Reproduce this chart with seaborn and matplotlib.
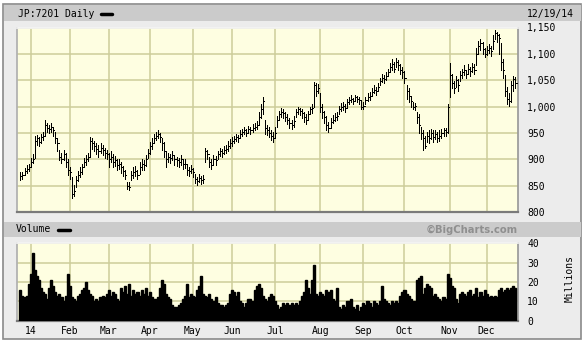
import matplotlib
matplotlib.use("Agg")
import matplotlib.pyplot as plt
import seaborn as sns
import numpy as np
import pandas as pd
from matplotlib.patches import Rectangle

# ---------------- data (trading-day index 0..241, 24 Dec 2013 .. 19 Dec 2014) ----------------
closes = [
    868, 870, 878, 882, 885, 895, 900, 935, 940, 932,
    942, 945, 965, 960, 958, 962, 955, 940, 930, 905,
    900, 910, 895, 880, 875, 835, 840, 860, 870, 875,
    885, 895, 900, 905, 935, 930, 925, 920, 915, 922,
    918, 912, 910, 900, 905, 895, 898, 890, 892, 885,
    878, 870, 850, 848, 870, 875, 878, 870, 885, 892,
    890, 900, 912, 925, 930, 940, 945, 948, 943, 930,
    915, 900, 905, 902, 908, 900, 898, 895, 900, 892,
    892, 880, 878, 882, 875, 862, 858, 865, 860, 862,
    915, 910, 895, 890, 900, 898, 910, 915, 912, 918,
    920, 925, 930, 935, 938, 942, 940, 948, 952, 955,
    950, 958, 955, 960, 962, 965, 980, 995, 1010, 960,
    955, 950, 945, 940, 950, 975, 985, 990, 988, 980,
    975, 968, 965, 972, 990, 995, 992, 988, 980, 975,
    985, 995, 998, 1040, 1030, 1035, 1000, 990, 980, 965,
    960, 970, 975, 980, 982, 995, 1000, 1002, 998, 1008,
    1012, 1015, 1010, 1018, 1015, 1012, 1000, 1002, 1012, 1018,
    1020, 1028, 1032, 1030, 1038, 1048, 1055, 1052, 1058, 1065,
    1075, 1080, 1072, 1085, 1078, 1070, 1065, 1055, 1030, 1020,
    1010, 1000, 1002, 980, 965, 950, 940, 925, 945, 940,
    950, 942, 948, 940, 945, 950, 955, 952, 1000, 1060,
    1045, 1035, 1050, 1040, 1060, 1065, 1070, 1062, 1072, 1068,
    1075, 1070, 1100, 1115, 1120, 1110, 1100, 1108, 1112, 1105,
    1125, 1140, 1135, 1130, 1085, 1070, 1030, 1015, 1010, 1040,
    1052, 1045,
]
highs = [
    875, 876, 884, 890, 892, 902, 910, 945, 946, 942,
    948, 952, 975, 968, 965, 968, 962, 952, 940, 918,
    912, 918, 912, 900, 885, 866, 852, 868, 878, 885,
    892, 902, 908, 912, 942, 940, 935, 930, 928, 930,
    928, 922, 918, 912, 915, 910, 906, 900, 900, 895,
    888, 880, 856, 856, 878, 885, 888, 880, 895, 900,
    898, 908, 920, 932, 940, 948, 952, 955, 950, 940,
    932, 915, 912, 910, 915, 908, 905, 902, 908, 900,
    900, 892, 885, 890, 884, 872, 866, 872, 868, 870,
    922, 918, 905, 900, 908, 906, 916, 922, 920, 925,
    928, 934, 938, 942, 945, 948, 946, 955, 958, 962,
    958, 964, 962, 966, 968, 972, 990, 1005, 1018, 975,
    965, 962, 955, 952, 962, 982, 992, 998, 995, 990,
    985, 978, 975, 982, 996, 1000, 998, 995, 990, 985,
    992, 1000, 1004, 1046, 1045, 1042, 1025, 1005, 992, 982,
    970, 978, 984, 988, 990, 1002, 1006, 1008, 1005, 1015,
    1018, 1022, 1017, 1022, 1021, 1018, 1010, 1008, 1018, 1025,
    1027, 1035, 1040, 1038, 1045, 1055, 1062, 1060, 1065, 1072,
    1082, 1090, 1085, 1092, 1088, 1080, 1075, 1068, 1040, 1035,
    1020, 1008, 1006, 990, 985, 962, 955, 945, 952, 955,
    958, 955, 955, 952, 955, 958, 960, 960, 1005, 1083,
    1062, 1048, 1058, 1052, 1068, 1072, 1078, 1070, 1080, 1076,
    1082, 1080, 1112, 1125, 1128, 1122, 1112, 1115, 1118, 1115,
    1135, 1146, 1142, 1138, 1120, 1090, 1060, 1038, 1025, 1048,
    1058, 1056,
]
lows = [
    860, 862, 870, 874, 878, 886, 893, 902, 928, 925,
    930, 936, 945, 952, 950, 952, 945, 930, 915, 898,
    893, 898, 885, 870, 862, 826, 830, 848, 858, 866,
    872, 886, 890, 896, 905, 920, 915, 910, 905, 912,
    908, 902, 900, 885, 895, 885, 888, 880, 882, 874,
    868, 862, 843, 842, 860, 865, 868, 862, 872, 880,
    880, 888, 902, 910, 920, 930, 936, 940, 932, 918,
    905, 885, 895, 893, 898, 890, 888, 886, 890, 882,
    883, 870, 868, 874, 866, 855, 852, 856, 853, 855,
    895, 900, 885, 882, 890, 890, 900, 906, 905, 910,
    912, 915, 922, 926, 930, 934, 932, 940, 945, 948,
    944, 950, 948, 952, 955, 958, 965, 978, 985, 948,
    946, 942, 936, 932, 940, 962, 975, 980, 978, 972,
    966, 960, 957, 962, 980, 986, 984, 978, 970, 966,
    975, 985, 988, 1000, 1020, 1025, 990, 978, 968, 955,
    952, 960, 968, 972, 974, 985, 992, 994, 990, 998,
    1004, 1008, 1005, 1010, 1008, 1004, 995, 996, 1004, 1010,
    1012, 1020, 1025, 1022, 1030, 1040, 1046, 1045, 1050, 1058,
    1065, 1070, 1066, 1075, 1070, 1062, 1055, 1045, 1015, 1008,
    1000, 995, 994, 968, 950, 938, 918, 922, 932, 930,
    938, 932, 938, 932, 935, 940, 945, 945, 950, 1018,
    1035, 1025, 1038, 1030, 1048, 1055, 1060, 1054, 1062, 1058,
    1066, 1062, 1078, 1100, 1108, 1100, 1094, 1098, 1102, 1096,
    1110, 1128, 1122, 1100, 1070, 1055, 1020, 1005, 1002, 1008,
    1030, 1035,
]
volumes = [  # millions of shares
    16, 13, 12, 13, 19, 24, 35, 26, 23, 21,
    17, 15, 14, 11, 17, 21, 18, 15, 13, 14,
    12, 10, 13, 24, 18, 12, 11, 10, 13, 14,
    16, 17, 20, 16, 14, 13, 10, 11, 10, 12,
    13, 12, 14, 16, 13, 15, 14, 11, 10, 17,
    15, 18, 14, 19, 13, 16, 14, 15, 13, 16,
    14, 17, 13, 15, 12, 11, 11, 12, 17, 21,
    19, 14, 12, 11, 8, 7, 7, 8, 9, 11,
    13, 19, 12, 14, 13, 12, 16, 18, 23, 14,
    13, 12, 14, 11, 10, 12, 9, 8, 8, 7,
    8, 9, 14, 16, 15, 13, 15, 10, 9, 7,
    9, 11, 11, 10, 16, 18, 19, 17, 13, 11,
    10, 12, 14, 13, 10, 8, 6, 7, 9, 8,
    9, 8, 9, 8, 9, 8, 10, 13, 15, 21,
    17, 14, 21, 29, 14, 13, 15, 14, 13, 16,
    15, 16, 11, 10, 17, 7, 6, 8, 7, 10,
    10, 11, 7, 6, 8, 5, 7, 9, 8, 10,
    9, 7, 10, 9, 8, 10, 18, 11, 10, 9,
    8, 10, 9, 10, 9, 13, 15, 16, 14, 13,
    11, 10, 10, 21, 22, 23, 14, 17, 19, 18,
    17, 13, 14, 12, 11, 10, 12, 11, 24, 22,
    18, 17, 11, 9, 14, 15, 14, 13, 15, 16,
    13, 14, 17, 12, 15, 13, 16, 14, 12, 13,
    12, 13, 12, 16, 17, 15, 16, 17, 16, 17,
    18, 17,
]
month_labels = ["14", "Feb", "Mar", "Apr", "May", "Jun", "Jul", "Aug", "Sep", "Oct", "Nov", "Dec"]
month_start_idx = [5, 24, 43, 63, 84, 103, 124, 146, 167, 187, 209, 227]
price_ticks = [800, 850, 900, 950, 1000, 1050, 1100, 1150]
volume_ticks = [0, 10, 20, 30, 40]
symbol_title = "JP:7201 Daily"
last_date = "12/19/14"

# ---------------- style ----------------
sns.set_theme(style="white")
plt.rcParams["font.family"] = ["DejaVu Sans Mono", "DejaVu Sans"]

W, H = 584, 341
BG = "#ececec"
BAND = "#cbcbcb"
PLOT_BG = "#fefee1"
GRID = "#cdcd9a"

fig = plt.figure(figsize=(W / 100, H / 100), dpi=100)
fig.patch.set_facecolor("white")


def fx(x):
    return x / W


def fy(y):
    return 1 - y / H


def px_axes(l, t, r, b):
    return fig.add_axes([l / W, 1 - b / H, (r - l) / W, (b - t) / H])


# outer frame and bands (behind the axes)
fig.patches.append(Rectangle((fx(3), fy(339)), fx(578), 335 / H, transform=fig.transFigure,
                             facecolor=BG, edgecolor="#8a8a8a", linewidth=1.2, zorder=-3))
fig.patches.append(Rectangle((fx(4), fy(21)), fx(577), 16 / H, transform=fig.transFigure,
                             facecolor=BAND, edgecolor="none", zorder=-2))
fig.patches.append(Rectangle((fx(4), fy(237)), fx(577), 15 / H, transform=fig.transFigure,
                             facecolor=BAND, edgecolor="none", zorder=-2))

idx = np.arange(len(closes))
x_lo = (17 - 20.4) / 2.054
x_hi = (518 - 20.4) / 2.054

# ---------------- price panel ----------------
ax = px_axes(17, 27.5, 518, 212)
ax.set_facecolor(PLOT_BG)
ax.vlines(idx, lows, highs, color="black", linewidth=0.7, antialiased=False, zorder=3)
ax.hlines(closes, idx, idx + 0.6, color="black", linewidth=0.7, antialiased=False, zorder=3)
ax.set_xlim(x_lo, x_hi)
ax.set_ylim(800, 1150)
ax.set_yticks(price_ticks)
ax.set_yticklabels([f"{v:,}" for v in price_ticks])
ax.set_xticks(month_start_idx)
ax.set_xticklabels([])
ax.yaxis.tick_right()
ax.tick_params(axis="y", length=0, pad=6.5, labelsize=7, labelcolor="black")
ax.tick_params(axis="x", length=0)
for lab in ax.get_yticklabels():
    lab.set_horizontalalignment("left")
ax.grid(True, color=GRID, linewidth=1.1, zorder=0)
ax.set_axisbelow(True)

# ---------------- volume panel ----------------
vax = px_axes(17, 242.7, 518, 320.7)
vax.set_facecolor(PLOT_BG)
vdf = pd.DataFrame({"i": idx, "vol": volumes})
sns.barplot(data=vdf, x="i", y="vol", native_scale=True, color="black", width=1.0,
            edgecolor="black", linewidth=1.0, saturation=1, ax=vax, zorder=3)
vax.set_xlim(x_lo, x_hi)
vax.set_ylim(0, 40.3)
vax.set_xlabel("")
vax.set_ylabel("")
vax.set_yticks(volume_ticks)
vax.set_yticklabels([str(v) for v in volume_ticks])
vax.set_xticks(month_start_idx)
vax.set_xticklabels(month_labels)
vax.yaxis.tick_right()
vax.tick_params(axis="y", length=0, pad=6.5, labelsize=7, labelcolor="black")
vax.tick_params(axis="x", length=0, pad=4, labelsize=7, labelcolor="black")
for lab in vax.get_yticklabels():
    lab.set_horizontalalignment("left")
vax.grid(True, color=GRID, linewidth=1.1, zorder=0)
vax.set_axisbelow(True)

for a in (ax, vax):
    a.spines["left"].set_color("#b0b0b0")
    a.spines["top"].set_color("#f4f4f4")
    a.spines["right"].set_color("#9a9a9a")
    a.spines["bottom"].set_color("#7a7a7a")
    a.spines["bottom"].set_linewidth(1.6)
    for s in a.spines.values():
        s.set_visible(True)

# ---------------- texts ----------------
fig.text(fx(18), fy(14), symbol_title, fontsize=7, va="center", ha="left", color="black")
fig.add_artist(plt.Line2D([fx(101), fx(112)], [fy(14), fy(14)], color="black", linewidth=2.5,
                          transform=fig.transFigure))
fig.text(fx(574), fy(14), last_date, fontsize=7, va="center", ha="right", color="black")

fig.text(fx(16), fy(229.5), "Volume", fontsize=7, va="center", ha="left", color="black")
fig.add_artist(plt.Line2D([fx(58), fx(70)], [fy(229.5), fy(229.5)], color="black", linewidth=2.5,
                          transform=fig.transFigure))
fig.text(fx(518), fy(229.5), "©BigCharts.com", fontsize=7.2, fontweight="bold", va="center",
         ha="right", color="#8f8f8f", family="DejaVu Sans")
fig.text(fx(570), fy(279), "Millions", fontsize=7, va="center", ha="center", rotation=90,
         color="black")

fig.savefig("out.png", dpi=100, facecolor=fig.get_facecolor())
